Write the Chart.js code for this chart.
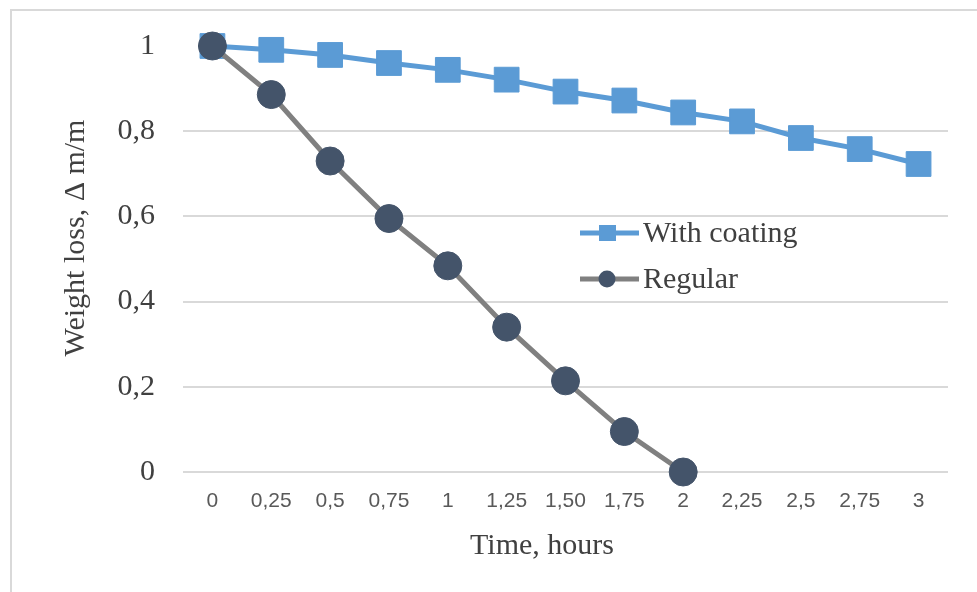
<!DOCTYPE html>
<html>
<head>
<meta charset="utf-8">
<script src="https://cdn.jsdelivr.net/npm/chart.js@4/dist/chart.umd.min.js"></script>
<style>
  html, body { margin: 0; padding: 0; background: #fff; }
  #wrap { position: relative; width: 977px; height: 592px; }
</style>
</head>
<body>
<div id="wrap"><canvas id="c" width="977" height="592"></canvas></div>
<script>
const categories = ["0","0,25","0,5","0,75","1","1,25","1,50","1,75","2","2,25","2,5","2,75","3"];
const withCoating = [1, 0.991, 0.979, 0.960, 0.944, 0.921, 0.893, 0.872, 0.844, 0.823, 0.784, 0.758, 0.723];
const regular = [1, 0.886, 0.730, 0.595, 0.484, 0.340, 0.214, 0.095, 0, null, null, null, null];
const yTickLabels = {0: "0", 0.2: "0,2", 0.4: "0,4", 0.6: "0,6", 0.8: "0,8", 1: "1"};
const seriesNames = ["With coating", "Regular"];
const xTitle = "Time, hours";
const yTitle = "Weight loss, \u0394 m/m";

const BLUE = "#5B9BD5", GRAY_LINE = "#808080", DARK = "#44546A";
const SERIF = "'Liberation Serif', 'Times New Roman', serif";

const extras = {
  id: "extras",
  beforeDraw(chart) {
    const ctx = chart.ctx;
    ctx.save();
    ctx.strokeStyle = "#d9d9d9";
    ctx.lineWidth = 2;
    ctx.beginPath();
    ctx.moveTo(11, 592); ctx.lineTo(11, 10); ctx.lineTo(977, 10);
    ctx.stroke();
    ctx.restore();
  },
  afterDraw(chart) {
    const ctx = chart.ctx;
    ctx.save();
    ctx.fillStyle = "#404040";
    ctx.font = "30px " + SERIF;
    ctx.textAlign = "center";
    ctx.textBaseline = "middle";
    ctx.fillText(xTitle, 542, 546);
    ctx.save();
    ctx.translate(76, 238);
    ctx.rotate(-Math.PI / 2);
    ctx.fillText(yTitle, 0, 0);
    ctx.restore();
    const items = [
      {name: seriesNames[0], y: 233, line: BLUE, marker: "rect", fill: BLUE},
      {name: seriesNames[1], y: 279, line: GRAY_LINE, marker: "circle", fill: DARK}
    ];
    ctx.textAlign = "left";
    ctx.font = "30px " + SERIF;
    items.forEach(it => {
      ctx.strokeStyle = it.line;
      ctx.lineWidth = 5;
      ctx.beginPath(); ctx.moveTo(580, it.y); ctx.lineTo(639, it.y); ctx.stroke();
      ctx.fillStyle = it.fill;
      if (it.marker === "rect") {
        ctx.fillRect(599, it.y - 8, 17, 16);
      } else {
        ctx.beginPath(); ctx.arc(607, it.y, 8.5, 0, Math.PI * 2); ctx.fill();
      }
      ctx.fillStyle = "#404040";
      ctx.fillText(it.name, 643, it.y + 1);
    });
    ctx.restore();
  }
};

new Chart(document.getElementById("c"), {
  type: "line",
  data: {
    labels: categories,
    datasets: [
      {
        label: seriesNames[0], data: withCoating,
        borderColor: BLUE, backgroundColor: BLUE, borderWidth: 5,
        pointStyle: "rect", pointRadius: 17.5, pointBorderWidth: 1,
        pointBorderColor: BLUE, pointBackgroundColor: BLUE,
        order: 1, tension: 0
      },
      {
        label: seriesNames[1], data: regular,
        borderColor: GRAY_LINE, backgroundColor: DARK, borderWidth: 5,
        pointStyle: "circle", pointRadius: 14, pointBorderWidth: 1,
        pointBorderColor: DARK, pointBackgroundColor: DARK,
        order: 0, tension: 0, spanGaps: false
      }
    ]
  },
  options: {
    responsive: false,
    animation: false,
    clip: false,
    layout: { padding: { left: 0, top: 42, right: 29, bottom: 0 } },
    plugins: { legend: { display: false }, tooltip: { enabled: false } },
    scales: {
      x: {
        offset: true,
        grid: { display: false, drawTicks: false, offset: true },
        border: { display: false },
        ticks: {
          color: "#595959",
          font: { family: "'Liberation Sans', Arial, sans-serif", size: 21 },
          padding: 17, maxRotation: 0, autoSkip: false
        },
        afterFit(s) { s.height = 120; }
      },
      y: {
        min: 0, max: 1,
        grid: {
          drawTicks: false, lineWidth: 2,
          color: c => (c.tick && c.tick.value === 1) ? "rgba(0,0,0,0)" : "#d9d9d9"
        },
        border: { display: false },
        ticks: {
          stepSize: 0.2, padding: 28, color: "#404040",
          font: { family: SERIF, size: 30 },
          callback: v => yTickLabels[Math.round(v * 10) / 10]
        },
        afterFit(s) { s.width = 183; }
      }
    }
  },
  plugins: [extras]
});
</script>
</body>
</html>
